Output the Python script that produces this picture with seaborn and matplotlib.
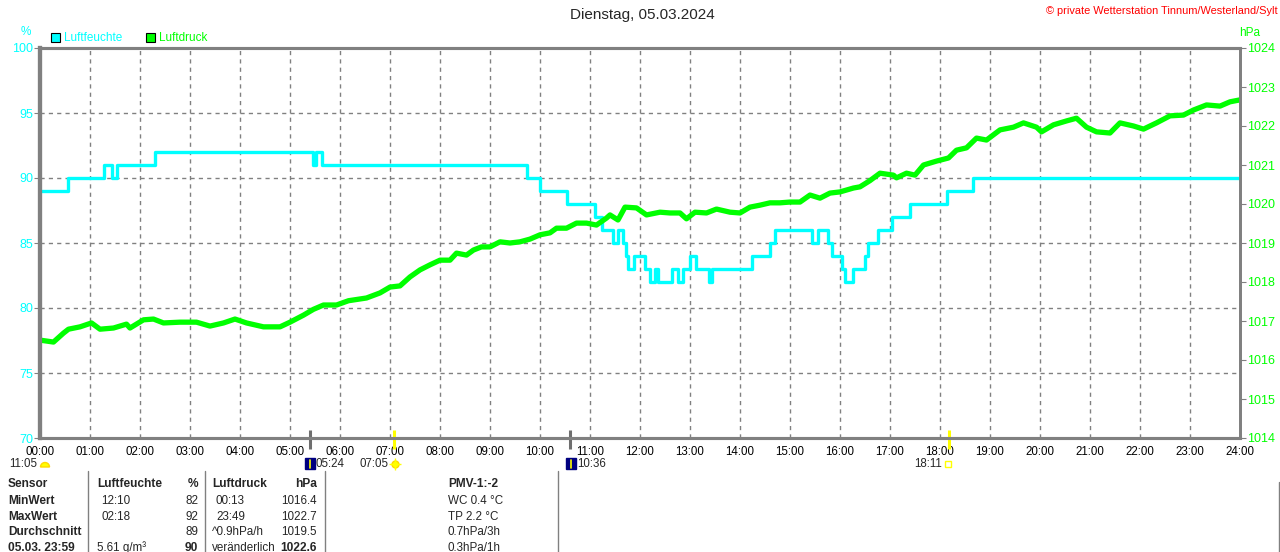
import numpy as np
import pandas as pd
import matplotlib
matplotlib.use("Agg")
import matplotlib.pyplot as plt
from matplotlib.patches import Rectangle, Wedge
import seaborn as sns

# humidity (step curve): hour of change, value in %
hum_hours = [0.00, 0.56, 1.28, 1.44, 1.54, 2.30, 5.46, 5.52, 5.64, 9.74, 10.00, 10.54,
             11.10, 11.24, 11.46, 11.56, 11.66, 11.72, 11.76, 11.88, 12.10, 12.20, 12.30,
             12.36, 12.64, 12.76, 12.86, 13.00, 13.12, 13.38, 13.44, 14.24, 14.60, 14.70,
             15.44, 15.56, 15.76, 15.84, 16.04, 16.10, 16.26, 16.50, 16.56, 16.76, 17.04,
             17.40, 18.14, 18.66, 24.00]
hum_values = [89, 90, 91, 90, 91, 92, 91, 92, 91, 90, 89, 88,
              87, 86, 85, 86, 85, 84, 83, 84, 83, 82, 83,
              82, 83, 82, 83, 84, 83, 82, 83, 84, 85, 86,
              85, 86, 85, 84, 83, 82, 83, 84, 85, 86, 87,
              88, 89, 90, 90]

# pressure readings: hour, hPa
p_hours = [0.00, 0.27, 0.47, 0.57, 0.80, 1.03, 1.20, 1.47, 1.73, 1.80, 2.07, 2.27, 2.47,
           2.80, 3.13, 3.40, 3.67, 3.90, 4.13, 4.47, 4.80, 5.00, 5.27, 5.47, 5.67, 5.93,
           6.17, 6.53, 6.80, 7.00, 7.20, 7.40, 7.60, 7.80, 8.00, 8.20, 8.33, 8.53, 8.67,
           8.83, 9.00, 9.20, 9.40, 9.60, 9.80, 10.00, 10.20, 10.33, 10.53, 10.73, 10.93,
           11.13, 11.33, 11.40, 11.56, 11.70, 11.93, 12.13, 12.40, 12.60, 12.80, 12.93,
           13.10, 13.33, 13.53, 13.80, 14.00, 14.20, 14.40, 14.60, 14.80, 15.00, 15.20,
           15.40, 15.60, 15.80, 16.00, 16.27, 16.40, 16.60, 16.80, 17.07, 17.13, 17.33,
           17.50, 17.67, 17.93, 18.17, 18.33, 18.53, 18.73, 18.93, 19.20, 19.47, 19.67,
           19.93, 20.03, 20.27, 20.53, 20.73, 20.93, 21.13, 21.40, 21.60, 21.87, 22.07,
           22.33, 22.60, 22.87, 23.07, 23.33, 23.60, 23.80, 24.00]
p_values = [1016.51, 1016.46, 1016.69, 1016.79, 1016.85, 1016.95, 1016.79, 1016.82, 1016.92,
            1016.82, 1017.03, 1017.05, 1016.95, 1016.97, 1016.97, 1016.87, 1016.95, 1017.05,
            1016.95, 1016.85, 1016.85, 1016.97, 1017.15, 1017.30, 1017.41, 1017.41, 1017.52,
            1017.59, 1017.72, 1017.87, 1017.90, 1018.13, 1018.31, 1018.44, 1018.56, 1018.56,
            1018.74, 1018.69, 1018.82, 1018.90, 1018.90, 1019.03, 1019.00, 1019.03, 1019.10,
            1019.21, 1019.26, 1019.38, 1019.38, 1019.51, 1019.51, 1019.46, 1019.64, 1019.72,
            1019.59, 1019.92, 1019.90, 1019.72, 1019.79, 1019.77, 1019.77, 1019.62, 1019.79,
            1019.77, 1019.87, 1019.79, 1019.77, 1019.92, 1019.97, 1020.03, 1020.03, 1020.05,
            1020.05, 1020.23, 1020.15, 1020.28, 1020.31, 1020.41, 1020.44, 1020.60, 1020.79,
            1020.74, 1020.67, 1020.79, 1020.74, 1021.00, 1021.10, 1021.18, 1021.38, 1021.44,
            1021.69, 1021.64, 1021.90, 1021.97, 1022.08, 1021.97, 1021.85, 1022.03, 1022.13,
            1022.20, 1021.97, 1021.85, 1021.82, 1022.08, 1022.00, 1021.92, 1022.08, 1022.26,
            1022.28, 1022.41, 1022.54, 1022.51, 1022.62, 1022.67]

hour_labels = ["%02d:00" % h for h in range(25)]
hum_ticks = [70, 75, 80, 85, 90, 95, 100]
p_ticks = list(range(1014, 1025))

# sun / moon events on the time axis
event_hours = [5.4, 7.0833, 10.6, 18.1833]
event_colors = ["#6e6e6e", "#ffff00", "#6e6e6e", "#ffff00"]

table_rows = [
    ["Sensor", "Luftfeuchte", "%", "Luftdruck", "hPa", "PMV-1:-2"],
    ["MinWert", "12:10", "82", "00:13", "1016.4", "WC 0.4 °C"],
    ["MaxWert", "02:18", "92", "23:49", "1022.7", "TP 2.2 °C"],
    ["Durchschnitt", "", "89", "^0.9hPa/h", "1019.5", "0.7hPa/3h"],
    ["05.03. 23:59", "5.61 g/m³", "90", "veränderlich", "1022.6", "0.3hPa/1h"],
]

CYAN = "#00ffff"
GREEN = "#00ff00"
GRAY = "#808080"

sns.set_style("white")
plt.rcParams["font.family"] = ["Liberation Sans", "DejaVu Sans"]
plt.rcParams["font.size"] = 8

hum = pd.DataFrame({"hour": hum_hours, "hum": hum_values})
pres = pd.DataFrame({"hour": p_hours, "hpa": p_values})

fig = plt.figure(figsize=(12.8, 5.52), dpi=100)
W, H = 1280, 552
ax = fig.add_axes([40 / W, 1 - 438 / H, 1200 / W, 390 / H])
ax2 = ax.twinx()

sns.lineplot(data=hum, x="hour", y="hum", ax=ax, color=CYAN, lw=2.4,
             drawstyle="steps-post", legend=False, estimator=None)
sns.lineplot(data=pres, x="hour", y="hpa", ax=ax2, color=GREEN, lw=3.8,
             legend=False, estimator=None)

ax.set_xlim(0, 24)
ax.set_ylim(70, 100)
ax2.set_ylim(1014, 1024)
ax.set_xticks(range(25))
ax.set_xticklabels(hour_labels)
ax.set_yticks(hum_ticks)
ax2.set_yticks(p_ticks)
for a in (ax, ax2):
    a.set_xlabel("")
    a.set_ylabel("")

ax.grid(True, color=GRAY, ls=(0, (3, 3)), lw=1)
ax.tick_params(axis="x", colors=GRAY, labelcolor="black", length=0, pad=6, labelsize=8.3)
ax.tick_params(axis="y", colors=GRAY, labelcolor=CYAN, length=4, pad=1, labelsize=9,
               left=True)
ax2.tick_params(axis="y", colors=GRAY, labelcolor=GREEN, length=4, pad=1, labelsize=9,
                right=True)
for a in (ax, ax2):
    for side in a.spines:
        a.spines[side].set_color(GRAY)
    a.spines["left"].set_linewidth(3)
    a.spines["top"].set_linewidth(2.2)
    a.spines["bottom"].set_linewidth(2.2)
    a.spines["right"].set_linewidth(2)

ax.vlines(event_hours, -0.028, 0.02, colors=event_colors, lw=2.2,
          transform=ax.get_xaxis_transform(), clip_on=False, zorder=5)

# overlay in pixel coordinates for texts and decorations
ov = fig.add_axes([0, 0, 1, 1], zorder=10)
ov.set_xlim(0, W)
ov.set_ylim(H, 0)
ov.axis("off")
ov.patch.set_alpha(0)

ov.text(642, 15, "Dienstag, 05.03.2024", ha="center", va="center", fontsize=11)
ov.text(1278, 11, "© private Wetterstation Tinnum/Westerland/Sylt", ha="right",
        va="center", color="#ff0000", fontsize=7.9)
ov.text(26, 32, "%", ha="center", va="center", color=CYAN, fontsize=8.5)
ov.text(1250, 33, "hPa", ha="center", va="center", color=GREEN, fontsize=8.5)

ov.add_patch(Rectangle((51, 33), 9, 9, facecolor=CYAN, edgecolor="black", lw=0.8))
ov.text(64, 38, "Luftfeuchte", va="center", color=CYAN, fontsize=8.5)
ov.add_patch(Rectangle((146, 33), 9, 9, facecolor=GREEN, edgecolor="black", lw=0.8))
ov.text(159, 38, "Luftdruck", va="center", color=GREEN, fontsize=8.5)

# event labels and icons under the time axis
ov.text(37, 464, "11:05", ha="right", va="center", fontsize=8.3)
ov.add_patch(Wedge((45, 467), 4.5, 180, 360, facecolor="#ffff00", edgecolor="#ffd800"))
ov.add_patch(Rectangle((305, 458), 10, 11, facecolor="#000080", edgecolor="#000080"))
ov.plot([310, 310], [460, 468], color="#ffff00", lw=1.2)
ov.text(316, 464, "05:24", va="center", fontsize=8.3)
ov.text(389, 464, "07:05", ha="right", va="center", fontsize=8.3)
ov.plot([395], [464], marker="o", ms=5, color="#ffff00", mec="#ffd800")
ov.plot([395], [464], marker="+", ms=9, color="#ffff00", mew=1)
ov.add_patch(Rectangle((566, 458), 10, 11, facecolor="#000080", edgecolor="#000080"))
ov.plot([571, 571], [460, 468], color="#ffff00", lw=1.2)
ov.text(577, 464, "10:36", va="center", fontsize=8.3)
ov.text(942, 464, "18:11", ha="right", va="center", fontsize=8.3)
ov.add_patch(Rectangle((945, 461), 6, 6, facecolor="none", edgecolor="#ffff00", lw=1))

# value table
for xv in (88, 205, 325, 558):
    ov.plot([xv, xv], [471, H], color=GRAY, lw=1)
ov.plot([1279, 1279], [482, H], color=GRAY, lw=1)

row_y = [484, 501, 517, 532, 548]
col_x = [8, 97, 198, 212, 317, 448]
col_ha = ["left", "left", "right", "left", "right", "left"]
for r, (row, yv) in enumerate(zip(table_rows, row_y)):
    for c, txt in enumerate(row):
        bold = r == 0 or c == 0 or (r == 4 and c in (2, 4))
        xv = col_x[c]
        if r in (1, 2) and c in (1, 3):
            xv += 4
        ov.text(xv, yv, txt, ha=col_ha[c], va="center",
                fontsize=8.6 if bold else 8.4,
                fontweight="bold" if bold else "normal")

fig.savefig("out.png", dpi=100)
